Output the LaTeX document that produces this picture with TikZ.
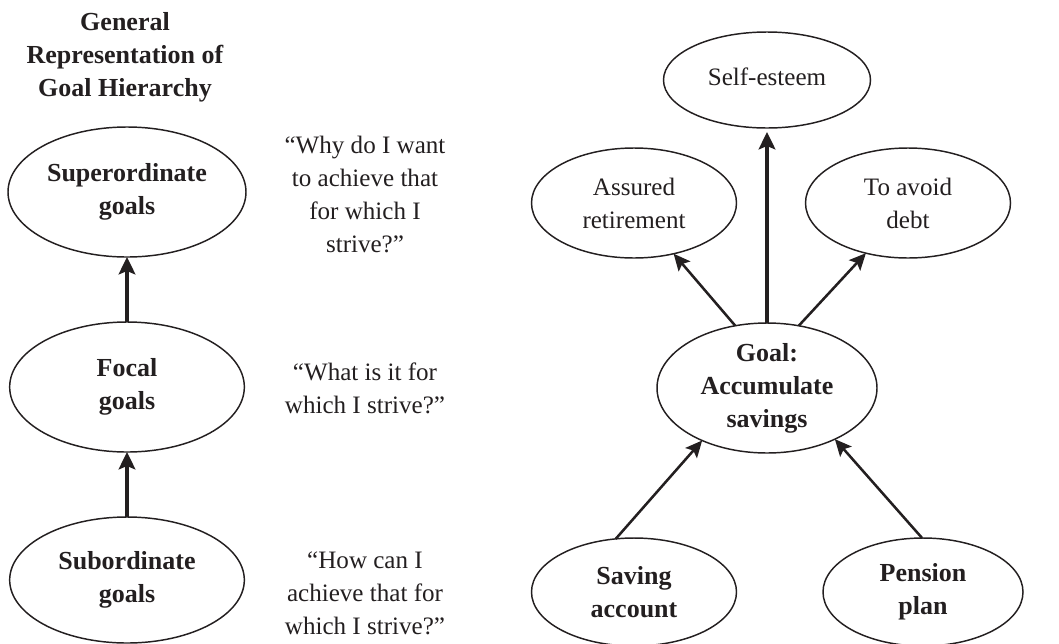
\documentclass[tikz,border=0pt]{standalone}
\usepackage{fontspec}
\setmainfont{Liberation Serif}
\usetikzlibrary{shapes.geometric,arrows.meta}
\definecolor{ink}{RGB}{35,31,32}
\begin{document}
\begin{tikzpicture}[x=0.75pt,y=-0.75pt,
  every node/.style={text=ink,font=\fontsize{18.8}{24.75}\selectfont},
  goalshape/.style={ellipse,draw=ink,line width=1.1pt,inner sep=0pt,outer sep=0pt,align=center},
  boldtxt/.style={font=\fontsize{19.5}{24.75}\selectfont\bfseries},
  txt/.style={align=center},
  link/.style={draw=ink,line width=1.9pt,-{Stealth[length=12.5pt,width=11.5pt,inset=2.5pt]}},
  thicklink/.style={draw=ink,line width=2.8pt,-{Stealth[length=13pt,width=12.5pt,inset=2.5pt]}}]
\useasboundingbox (0,0) rectangle (1059,643);

% general hierarchy (left)
\node[txt,boldtxt] (title) at (125,57) {General\\Representation of\\Goal Hierarchy};
\node[goalshape,boldtxt,minimum width=178.5pt,minimum height=97.5pt] (sup) at (127,192) {Superordinate\\goals};
\node[goalshape,boldtxt,minimum width=176pt,minimum height=97.5pt] (foc) at (127,387) {Focal\\goals};
\node[goalshape,boldtxt,minimum width=176pt,minimum height=94.5pt] (sub) at (127,580) {Subordinate\\goals};

\node[txt] (q1) at (365,194) {“Why do I want\\to achieve that\\for which I\\strive?”};
\node[txt] (q2) at (365,388) {“What is it for\\which I strive?”};
\node[txt] (q3) at (365,593) {“How can I\\achieve that for\\which I strive?”};

\draw[thicklink] (foc.north) -- (sup.south);
\draw[thicklink] (sub.north) -- (foc.south);

% example hierarchy (right)
\node[goalshape,minimum width=155.25pt,minimum height=72pt] (self) at (767,80) {\raisebox{5pt}{Self-esteem}};
\node[goalshape,minimum width=153.75pt,minimum height=82.5pt] (ret) at (634,203) {Assured\\retirement};
\node[goalshape,minimum width=153.75pt,minimum height=82.5pt] (debt) at (908,203) {To avoid\\debt};
\node[goalshape,boldtxt,minimum width=165pt,minimum height=97.5pt] (goal) at (767,388) {Goal:\\Accumulate\\savings};
\node[goalshape,boldtxt,minimum width=153.75pt,minimum height=81pt] (sav) at (634,592) {Saving\\account};
\node[goalshape,boldtxt,minimum width=150pt,minimum height=81pt] (pen) at (923,592) {Pension\\plan};

\draw[thicklink,shorten >=3pt] (goal.north) -- (self.south);
\draw[link] (goal.117) -- (ret.308);
\draw[link] (goal.63) -- (debt.230);
\draw[link] (sav.109) -- (goal.219);
\draw[link] (pen.91) -- (goal.323);
\end{tikzpicture}
\end{document}
